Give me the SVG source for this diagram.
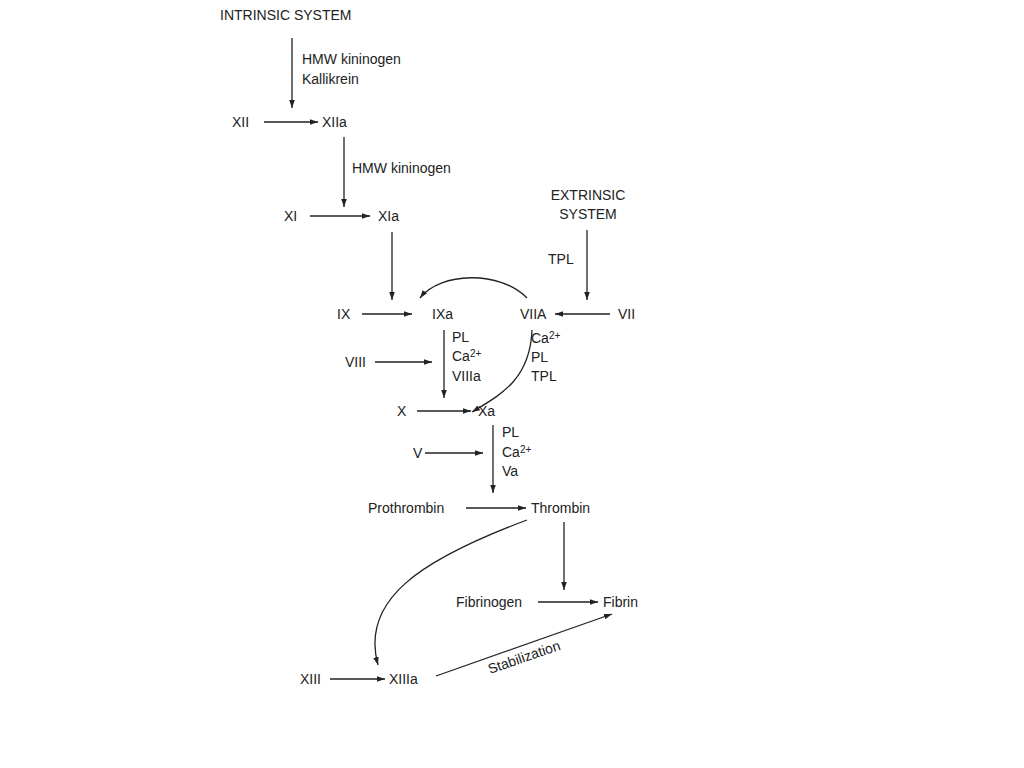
<svg xmlns="http://www.w3.org/2000/svg" width="1024" height="768" viewBox="0 0 1024 768">
<style>
text{font-family:"Liberation Sans",Arial,sans-serif;font-size:14px;fill:#222}
.c path,.c line{stroke:#222;stroke-width:1.3;fill:none;marker-end:url(#a)}
sup{font-size:10px}
</style>
<defs><marker id="a" viewBox="0 0 10 10" refX="10" refY="5" markerWidth="8" markerHeight="8" markerUnits="userSpaceOnUse" orient="auto"><path d="M0,1.5 L10,5 L0,8.5z" fill="#222"/></marker></defs>
<rect width="1024" height="768" fill="#fff"/>
<g class="c">
<line x1="292" y1="38" x2="292" y2="108"/>
<line x1="264" y1="122" x2="318" y2="122"/>
<line x1="344" y1="137" x2="344" y2="207"/>
<line x1="310" y1="216" x2="370" y2="216"/>
<line x1="587" y1="230" x2="587" y2="300"/>
<line x1="392" y1="232" x2="392" y2="300"/>
<line x1="362" y1="314" x2="412" y2="314"/>
<line x1="610" y1="314" x2="555" y2="314"/>
<path d="M527,298 C500,270 440,272 420,298"/>
<line x1="444" y1="330" x2="444" y2="398"/>
<line x1="375" y1="362" x2="432" y2="362"/>
<path d="M532,330 C530,380 500,395 472,412"/>
<line x1="417" y1="411" x2="471" y2="411"/>
<line x1="493" y1="425" x2="493" y2="493"/>
<line x1="425" y1="453" x2="483" y2="453"/>
<line x1="466" y1="508" x2="526" y2="508"/>
<line x1="564" y1="522" x2="564" y2="590"/>
<line x1="538" y1="602" x2="598" y2="602"/>
<path d="M527,520 C420,560 360,600 378,665"/>
<line x1="330" y1="679" x2="385" y2="679"/>
<line x1="436" y1="676" x2="612" y2="614"/>
</g>
<g id="intrinsic"><text x="220" y="20">INTRINSIC SYSTEM</text></g>
<g id="l1"><text x="302" y="64">HMW kininogen</text><text x="302" y="84">Kallikrein</text></g>
<g id="xii"><text x="232" y="127">XII</text></g>
<g id="xiia"><text x="322" y="127">XIIa</text></g>
<g id="l2"><text x="352" y="173">HMW kininogen</text></g>
<g id="xi"><text x="284" y="221">XI</text></g>
<g id="xia"><text x="378" y="221">XIa</text></g>
<g id="extrinsic"><text x="588" y="200" text-anchor="middle">EXTRINSIC</text><text x="588" y="219" text-anchor="middle">SYSTEM</text></g>
<g id="tpl"><text x="548" y="264">TPL</text></g>
<g id="ix"><text x="337" y="319">IX</text></g>
<g id="ixa"><text x="432" y="319">IXa</text></g>
<g id="viia"><text x="520" y="319">VIIA</text></g>
<g id="vii"><text x="618" y="319">VII</text></g>
<g id="l3"><text x="452" y="342">PL</text><text x="452" y="361">Ca<tspan font-size="10" dy="-4">2+</tspan></text><text x="452" y="381">VIIIa</text></g>
<g id="viii"><text x="345" y="367">VIII</text></g>
<g id="l4"><text x="531" y="343">Ca<tspan font-size="10" dy="-4">2+</tspan></text><text x="531" y="362">PL</text><text x="531" y="381">TPL</text></g>
<g id="x"><text x="397" y="416">X</text></g>
<g id="xa"><text x="478" y="416">Xa</text></g>
<g id="l5"><text x="502" y="437">PL</text><text x="502" y="457">Ca<tspan font-size="10" dy="-4">2+</tspan></text><text x="502" y="476">Va</text></g>
<g id="v"><text x="413" y="458">V</text></g>
<g id="prothrombin"><text x="368" y="513">Prothrombin</text></g>
<g id="thrombin"><text x="531" y="513">Thrombin</text></g>
<g id="fibrinogen"><text x="456" y="607">Fibrinogen</text></g>
<g id="fibrin"><text x="603" y="607">Fibrin</text></g>
<g id="xiii"><text x="300" y="684">XIII</text></g>
<g id="xiiia"><text x="389" y="684">XIIIa</text></g>
<g id="stab"><text x="524" y="662" text-anchor="middle" transform="rotate(-19 524 657)">Stabilization</text></g>
</svg>
